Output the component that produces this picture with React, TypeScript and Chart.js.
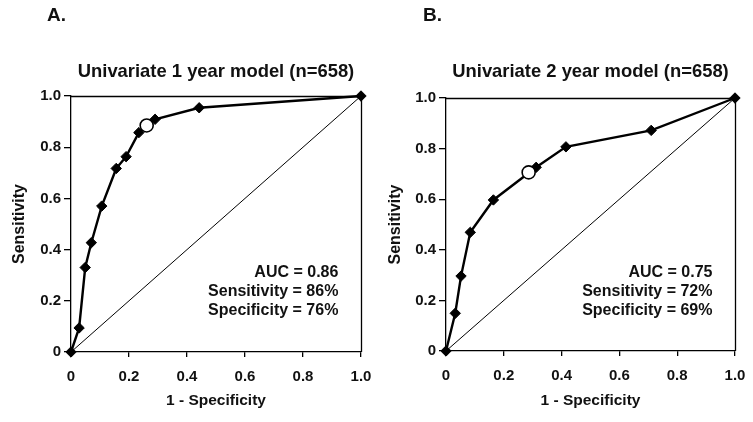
import React, { useEffect, useRef } from "react";
import { Chart, registerables } from "chart.js";

Chart.register(...registerables);

const FONT = "'Liberation Sans', Arial, Helvetica, sans-serif";
const INK = "#111111";

// ---- text ----
const panelLabels = ["A.", "B."];
const panelTitles = ["Univariate 1 year model (n=658)", "Univariate 2 year model (n=658)"];
const xAxisTitle = "1 - Specificity";
const yAxisTitle = "Sensitivity";
const tickValues = [0, 0.2, 0.4, 0.6, 0.8, 1.0];
const tickLabels = ["0", "0.2", "0.4", "0.6", "0.8", "1.0"];

// ---- panel A data (1 year model) ----
const fprA = [0, 0.028, 0.049, 0.07, 0.106, 0.156, 0.19, 0.234, 0.29, 0.442, 1.0];
const tprA = [0, 0.094, 0.33, 0.427, 0.57, 0.717, 0.763, 0.857, 0.909, 0.954, 1.0];
const cutFprA = [0.261];
const cutTprA = [0.885];
const statsA = ["AUC = 0.86", "Sensitivity = 86%", "Specificity = 76%"];

// ---- panel B data (2 year model) ----
const fprB = [0, 0.032, 0.052, 0.084, 0.164, 0.312, 0.415, 0.71, 1.0];
const tprB = [0, 0.149, 0.296, 0.469, 0.597, 0.726, 0.807, 0.872, 1.0];
const cutFprB = [0.286];
const cutTprB = [0.706];
const statsB = ["AUC = 0.75", "Sensitivity = 72%", "Specificity = 69%"];

// chance line
const diagX = [0, 1];
const diagY = [0, 1];

type Layout = {
  left: number;
  width: number;
  yAxisWidth: number;
  padRight: number;
  padTop: number;
  xAxisHeight: number;
  xTitlePadBottom: number;
};

const layoutA: Layout = {
  left: 0,
  width: 376,
  yAxisWidth: 71,
  padRight: 15,
  padTop: 96,
  xAxisHeight: 70,
  xTitlePadBottom: 11.7,
};
const layoutB: Layout = {
  left: 376,
  width: 377,
  yAxisWidth: 70,
  padRight: 18,
  padTop: 98,
  xAxisHeight: 71,
  xTitlePadBottom: 11.7,
};

const zip = (xs: number[], ys: number[]) => xs.map((x, i) => ({ x, y: ys[i] }));

function makeOverlay(label: string, title: string, stats: string[]) {
  return {
    id: "overlay",
    beforeDatasetsDraw(chart: any) {
      const { ctx, chartArea: a } = chart;
      ctx.save();
      ctx.strokeStyle = "#000";
      ctx.lineWidth = 1.3;
      const top = Math.round(a.top) + 0.5;
      const right = Math.round(a.right) + 0.5;
      ctx.beginPath();
      ctx.moveTo(a.left, top);
      ctx.lineTo(right, top);
      ctx.lineTo(right, a.bottom);
      ctx.stroke();
      ctx.restore();
    },
    afterDraw(chart: any) {
      const { ctx, chartArea: a } = chart;
      const xs = chart.scales.x;
      const ys = chart.scales.y;
      ctx.save();
      ctx.fillStyle = INK;
      ctx.font = `bold 19px ${FONT}`;
      ctx.textAlign = "left";
      ctx.textBaseline = "alphabetic";
      ctx.fillText(label, 47, 21);

      ctx.font = `bold 18.4px ${FONT}`;
      ctx.textAlign = "center";
      ctx.textBaseline = "middle";
      ctx.fillText(title, (a.left + a.right) / 2, 72);

      ctx.font = `bold 16px ${FONT}`;
      ctx.textAlign = "right";
      ctx.textBaseline = "middle";
      const x0 = xs.getPixelForValue(0.922);
      const y0 = ys.getPixelForValue(0.31);
      stats.forEach((s, i) => ctx.fillText(s, x0, y0 + i * 19));
      ctx.restore();
    },
  };
}

function Panel(props: {
  layout: Layout;
  label: string;
  title: string;
  fpr: number[];
  tpr: number[];
  cutFpr: number[];
  cutTpr: number[];
  stats: string[];
}) {
  const ref = useRef<HTMLCanvasElement | null>(null);
  const { layout, label, title, fpr, tpr, cutFpr, cutTpr, stats } = props;

  useEffect(() => {
    if (!ref.current) return;
    const chart = new Chart(ref.current, {
      type: "scatter",
      data: {
        datasets: [
          {
            data: zip(cutFpr, cutTpr),
            showLine: false,
            pointStyle: "circle",
            pointRadius: 6.5,
            pointBackgroundColor: "#ffffff",
            pointBorderColor: "#000000",
            pointBorderWidth: 1.6,
            clip: false,
            order: 0,
          },
          {
            data: zip(fpr, tpr),
            showLine: true,
            borderColor: "#000000",
            borderWidth: 2.4,
            pointStyle: "rectRot",
            pointRadius: 5.2,
            pointBackgroundColor: "#000000",
            pointBorderColor: "#000000",
            pointBorderWidth: 1,
            clip: false,
            order: 1,
          },
          {
            data: zip(diagX, diagY),
            showLine: true,
            borderColor: "#000000",
            borderWidth: 1,
            pointRadius: 0,
            clip: false,
            order: 2,
          },
        ],
      },
      options: {
        responsive: false,
        animation: false,
        devicePixelRatio: 1,
        layout: { padding: { left: 0, right: layout.padRight, top: layout.padTop, bottom: 0 } },
        plugins: {
          legend: { display: false },
          tooltip: { enabled: false },
          title: { display: false },
        },
        scales: {
          x: {
            type: "linear",
            min: 0,
            max: 1,
            afterBuildTicks: (s: any) => {
              s.ticks = tickValues.map((v) => ({ value: v }));
            },
            afterFit: (s: any) => {
              s.height = layout.xAxisHeight;
            },
            ticks: {
              autoSkip: false,
              maxRotation: 0,
              padding: 0,
              color: INK,
              font: { family: FONT, size: 15, weight: "bold", lineHeight: "39px" },
              callback: (_v: any, i: number) => tickLabels[i],
            },
            grid: {
              display: true,
              drawOnChartArea: false,
              drawTicks: true,
              tickLength: 5,
              color: "#000",
              lineWidth: 1.3,
            },
            border: { display: true, color: "#000", width: 1.3 },
            title: {
              display: true,
              text: xAxisTitle,
              color: INK,
              font: { family: FONT, size: 15.5, weight: "bold" },
              padding: { top: 0, bottom: layout.xTitlePadBottom },
            },
          },
          y: {
            type: "linear",
            min: 0,
            max: 1,
            afterBuildTicks: (s: any) => {
              s.ticks = tickValues.map((v) => ({ value: v }));
            },
            afterFit: (s: any) => {
              s.width = layout.yAxisWidth;
            },
            ticks: {
              autoSkip: false,
              padding: 3,
              color: INK,
              font: { family: FONT, size: 15, weight: "bold" },
              callback: (_v: any, i: number) => tickLabels[i],
            },
            grid: {
              display: true,
              drawOnChartArea: false,
              drawTicks: true,
              tickLength: 7,
              color: "#000",
              lineWidth: 1.3,
            },
            border: { display: true, color: "#000", width: 1.3 },
            title: {
              display: true,
              text: yAxisTitle,
              color: INK,
              font: { family: FONT, size: 16, weight: "bold" },
              padding: { top: 10.4, bottom: 0 },
            },
          },
        },
      } as any,
      plugins: [makeOverlay(label, title, stats)],
    });
    return () => chart.destroy();
  }, []);

  return (
    <canvas
      ref={ref}
      width={layout.width}
      height={422}
      style={{
        position: "absolute",
        left: layout.left,
        top: 0,
        width: layout.width,
        height: 422,
        display: "block",
      }}
    />
  );
}

export default function App() {
  return (
    <div
      style={{
        position: "fixed",
        left: 0,
        top: 0,
        width: 753,
        height: 422,
        background: "#ffffff",
        overflow: "hidden",
      }}
    >
      <Panel
        layout={layoutA}
        label={panelLabels[0]}
        title={panelTitles[0]}
        fpr={fprA}
        tpr={tprA}
        cutFpr={cutFprA}
        cutTpr={cutTprA}
        stats={statsA}
      />
      <Panel
        layout={layoutB}
        label={panelLabels[1]}
        title={panelTitles[1]}
        fpr={fprB}
        tpr={tprB}
        cutFpr={cutFprB}
        cutTpr={cutTprB}
        stats={statsB}
      />
    </div>
  );
}
